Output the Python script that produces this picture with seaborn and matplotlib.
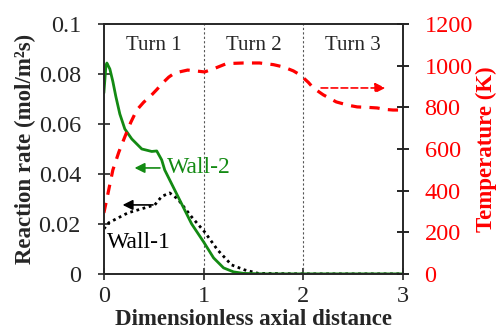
import numpy as np
import pandas as pd
import matplotlib
matplotlib.use('Agg')
import matplotlib.pyplot as plt
import seaborn as sns

# data
wall2_x = [0.0, 0.02, 0.03, 0.06, 0.09, 0.12, 0.16, 0.21, 0.28, 0.38, 0.48, 0.53, 0.58, 0.61,
           0.68, 0.78, 0.88, 1.0, 1.1, 1.2, 1.3, 1.4, 1.6, 2.0, 2.5, 3.0]
wall2_y = [0.0724, 0.083, 0.0844, 0.082, 0.077, 0.071, 0.064, 0.058, 0.054, 0.050, 0.049, 0.0492, 0.0456, 0.0416,
           0.036, 0.028, 0.020, 0.0128, 0.0064, 0.0024, 0.0008, 0.0002, 0.0, 0.0, 0.0, 0.0]

wall1_x = [0.0, 0.05, 0.24, 0.51, 0.58, 0.66, 0.74, 0.88, 1.01, 1.14, 1.28, 1.41, 1.55, 2.0, 2.5, 3.0]
wall1_y = [0.018, 0.0205, 0.0244, 0.0276, 0.031, 0.0324, 0.030, 0.0228, 0.0168, 0.0096, 0.0036, 0.0016, 0.0002, 0.0, 0.0, 0.0]

temp_x = [0.0, 0.03, 0.06, 0.09, 0.15, 0.21, 0.27, 0.33, 0.4, 0.46, 0.53, 0.59, 0.65, 0.71, 0.84, 1.01, 1.1,
          1.23, 1.4, 1.56, 1.7, 1.8, 1.9, 1.97, 2.05, 2.1, 2.2, 2.33, 2.45, 2.54, 2.64, 2.74, 2.82, 2.9, 3.0]
temp_y = [293, 360, 430, 499, 585, 658, 728, 787, 825, 850, 885, 917, 945, 965, 979, 970, 985,
          1010, 1013, 1013, 1005, 994, 975, 955, 920, 893, 860, 826, 810, 802, 800, 797, 790, 787, 787]

turn_labels = ['Turn 1', 'Turn 2', 'Turn 3']
turn_pos = [0.5, 1.5, 2.5]

sns.set_style('ticks')
plt.rcParams['font.family'] = ['Liberation Serif', 'DejaVu Serif']

df_w2 = pd.DataFrame({'x': wall2_x, 'y': wall2_y})
df_w1 = pd.DataFrame({'x': wall1_x, 'y': wall1_y})
df_t = pd.DataFrame({'x': temp_x, 'y': temp_y})

fig, ax = plt.subplots(figsize=(4.97, 3.34), dpi=100)
fig.subplots_adjust(left=0.209, right=0.811, top=0.928, bottom=0.18)

ax.axvline(1, color='#555555', ls=(0, (2, 2)), lw=0.8)
ax.axvline(2, color='#555555', ls=(0, (2, 2)), lw=0.8)

sns.lineplot(data=df_w1, x='x', y='y', ax=ax, color='black', lw=2, ls=(0, (1, 1.3)))
sns.lineplot(data=df_w2, x='x', y='y', ax=ax, color='#138a13', lw=2)

ax.set_xlim(0, 3)
ax.set_ylim(0, 0.1)
ax.set_xticks([0, 1, 2, 3])
ax.set_yticks([0, 0.02, 0.04, 0.06, 0.08, 0.1])
ax.set_yticklabels(['0', '0.02', '0.04', '0.06', '0.08', '0.1'])
ax.tick_params(axis='both', direction='inout', length=9, width=1.2, labelsize=17.5)
ax.tick_params(axis='y', pad=12)
ax.tick_params(axis='x', pad=4)
for s in ax.spines.values():
    s.set_linewidth(1.2)
ax.set_xlabel('Dimensionless axial distance', fontsize=16.5, fontweight='bold', labelpad=2)
ax.set_ylabel('Reaction rate (mol/m²s)', fontsize=16.5, fontweight='bold', labelpad=2)

for lab, pos in zip(turn_labels, turn_pos):
    ax.text(pos, 0.0915, lab, ha='center', va='center', fontsize=15)

# arrows pointing at the left axis
ax.annotate('', xy=(0.28, 0.0424), xytext=(0.59, 0.0424),
            arrowprops=dict(arrowstyle='-|>', color='#138a13', lw=1.2, mutation_scale=15))
ax.text(0.63, 0.0424, 'Wall-2', color='#138a13', fontsize=17, va='center', ha='left')
ax.annotate('', xy=(0.16, 0.0276), xytext=(0.52, 0.0276),
            arrowprops=dict(arrowstyle='-|>', color='black', lw=1.2, mutation_scale=15))
ax.text(0.03, 0.0124, 'Wall-1', color='black', fontsize=17, va='center', ha='left')

ax2 = ax.twinx()
sns.lineplot(data=df_t, x='x', y='y', ax=ax2, color='#ff0000', lw=2.3, ls=(0, (3.2, 2.6)))
ax2.set_ylim(0, 1200)
ax2.set_yticks(range(0, 1201, 200))
ax2.tick_params(axis='y', direction='inout', length=9, width=1.2, labelsize=17.5, colors='black',
                labelcolor='#ff0000', pad=11)
ax2.set_ylabel('Temperature (K)', fontsize=16.5, fontweight='bold', color='#ff0000', labelpad=2)
ax2.annotate('', xy=(2.85, 893), xytext=(2.15, 893),
             arrowprops=dict(arrowstyle='-|>', color='#ff0000', lw=1.2, ls=(0, (4, 2)), mutation_scale=15))
for s in ax2.spines.values():
    s.set_linewidth(1.2)

plt.savefig('out.png', dpi=100)
